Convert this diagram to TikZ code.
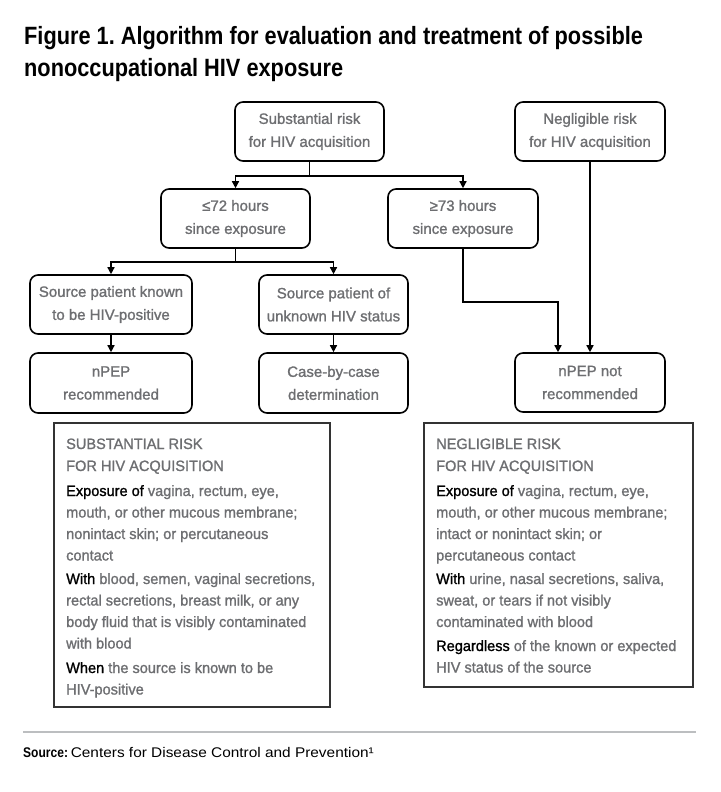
\documentclass[tikz,border=0pt]{standalone}
\usepackage{fontspec}
\setmainfont{Liberation Sans}
\newfontfamily\titlef[FakeStretch=0.87]{Liberation Sans}
\newfontfamily\flowf[FakeBold=1.2]{Liberation Sans}
\newfontfamily\bodyf[FakeStretch=0.97,FakeBold=1.2]{Liberation Sans}
\newfontfamily\srcf[FakeStretch=1.1]{Liberation Sans}
\newfontfamily\srcb[FakeStretch=0.86]{Liberation Sans}
\usetikzlibrary{arrows.meta}
\definecolor{txtgray}{HTML}{6D6E71}
\definecolor{rulegray}{HTML}{BCBEC0}
\definecolor{boxedge}{HTML}{333333}
\newcommand\infl[4]{\node[infoline] (#1) at (#2,#3) {#4};}
\newcommand\kw[1]{{\color{black}#1}}
\frenchspacing
\begin{document}
\begin{tikzpicture}[x=1pt,y=-1pt,
  flow/.style={draw=black, line width=1.6pt, rounded corners=8pt, text=txtgray,
    align=center, font=\flowf\fontsize{15}{23}\selectfont, inner sep=0pt},
  conn/.style={line width=1.4pt, draw=black},
  tip/.style={-{Triangle[length=7pt,width=7pt]}},
  infobox/.style={draw=boxedge, line width=1.6pt, inner sep=0pt, anchor=north west},
  infoline/.style={anchor=base west, inner sep=0pt, text=txtgray, font=\bodyf\fontsize{15}{18}\selectfont},
  titleline/.style={anchor=base west, inner sep=0pt, text=black, font=\titlef\bfseries\fontsize{25}{30}\selectfont}]
\useasboundingbox (0,0) rectangle (720,792);
\fill[white] (0,0) rectangle (720,792);

% title
\node[titleline] (t1) at (24,45) {Figure 1. Algorithm for evaluation and treatment of possible};
\node[titleline] (t2) at (24,77) {nonoccupational HIV exposure};

% flow nodes
\node[flow, minimum width=149, minimum height=59] (subst) at (309.5,131.5) {Substantial risk\\for HIV acquisition};
\node[flow, minimum width=150, minimum height=59] (negl) at (590,131.5) {Negligible risk\\for HIV acquisition};
\node[flow, minimum width=149, minimum height=59] (le72) at (235.5,218.5) {≤72 hours\\since exposure};
\node[flow, minimum width=150, minimum height=59] (ge73) at (463,218.5) {≥73 hours\\since exposure};
\node[flow, minimum width=162, minimum height=59] (known) at (111,304.5) {Source patient known\\to be HIV-positive};
\node[flow, minimum width=149, minimum height=59] (unknown) at (333.5,304.5) {Source patient of\\unknown HIV status};
\node[flow, minimum width=162, minimum height=60] (nrec) at (111,383) {nPEP\\recommended};
\node[flow, minimum width=149, minimum height=60] (case) at (333.5,383) {Case-by-case\\determination};
\node[flow, minimum width=150, minimum height=59] (nnot) at (590,382.5) {nPEP not\\recommended};

% connectors
\coordinate (j1) at (309.5,176);
\coordinate (j2) at (235.5,262);
\coordinate (j3) at (558,302);
\draw[conn] (subst.south) -- (j1);
\draw[conn,tip] (j1) -| (le72.north);
\draw[conn,tip] (j1) -| (ge73.north);
\draw[conn] (le72.south) -- (j2);
\draw[conn,tip] (j2) -| (known.north);
\draw[conn,tip] (j2) -| (unknown.north);
\draw[conn,tip] (known.south) -- (nrec.north);
\draw[conn,tip] (unknown.south) -- (case.north);
\draw[conn,tip] (ge73.south) |- (j3) -- (j3 |- nnot.north);
\draw[conn,tip] (negl.south) -- (nnot.north);

% info boxes
\node[infobox, minimum width=276, minimum height=284] (sbox) at (53,422) {};
\node[infobox, minimum width=269, minimum height=264] (nbox) at (423,422) {};

\infl{s1}{66}{449}{SUBSTANTIAL RISK}
\infl{s2}{66}{471}{FOR HIV ACQUISITION}
\infl{s3}{66}{496}{\kw{Exposure of} vagina, rectum, eye,}
\infl{s4}{66}{517.5}{mouth, or other mucous membrane;}
\infl{s5}{66}{539}{nonintact skin; or percutaneous}
\infl{s6}{66}{560.5}{contact}
\infl{s7}{66}{584}{\kw{With} blood, semen, vaginal secretions,}
\infl{s8}{66}{605.5}{rectal secretions, breast milk, or any}
\infl{s9}{66}{627}{body fluid that is visibly contaminated}
\infl{s10}{66}{648.5}{with blood}
\infl{s11}{66}{673}{\kw{When} the source is known to be}
\infl{s12}{66}{694.5}{HIV-positive}

\infl{n1}{436}{449}{NEGLIGIBLE RISK}
\infl{n2}{436}{471}{FOR HIV ACQUISITION}
\infl{n3}{436}{496}{\kw{Exposure of} vagina, rectum, eye,}
\infl{n4}{436}{517.5}{mouth, or other mucous membrane;}
\infl{n5}{436}{539}{intact or nonintact skin; or}
\infl{n6}{436}{560.5}{percutaneous contact}
\infl{n7}{436}{584}{\kw{With} urine, nasal secretions, saliva,}
\infl{n8}{436}{605.5}{sweat, or tears if not visibly}
\infl{n9}{436}{627}{contaminated with blood}
\infl{n10}{436}{651}{\kw{Regardless} of the known or expected}
\infl{n11}{436}{672.5}{HIV status of the source}

% rule and source
\coordinate (r1) at (23,732);
\coordinate (r2) at (696,732);
\draw[rulegray, line width=2pt] (r1) -- (r2);
\node[anchor=base west, inner sep=0pt, text=black] (src) at (23,757)
  {{\srcb\bfseries\fontsize{14}{16}\selectfont Source:} {\srcf\fontsize{14}{16}\selectfont Centers for Disease Control and Prevention¹}};
\end{tikzpicture}
\end{document}
